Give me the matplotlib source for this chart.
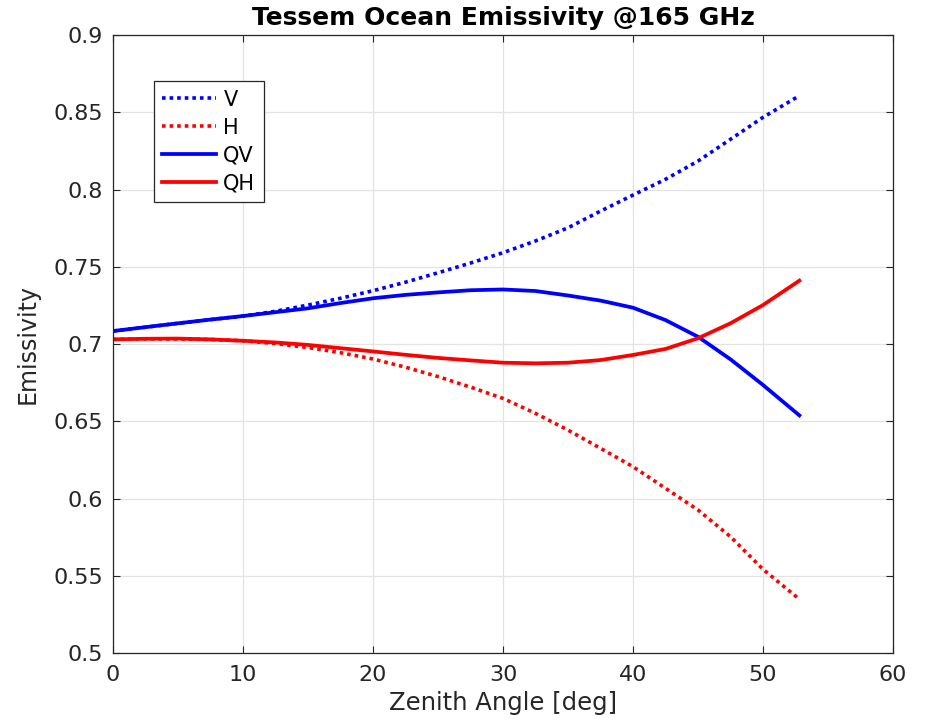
import numpy as np
import matplotlib.pyplot as plt

# zenith angles [deg] and emissivities at 165 GHz
theta = [0, 2.5, 5, 7.5, 10, 12.5, 15, 17.5, 20, 22.5, 25, 27.5, 30, 32.5,
         35, 37.5, 40, 42.5, 45, 47.5, 50, 52.8]
e_v = [0.7084, 0.7109, 0.7134, 0.7158, 0.7181, 0.7212, 0.7252, 0.7296, 0.7345,
       0.7400, 0.7461, 0.7524, 0.7591, 0.7667, 0.7752, 0.7860, 0.7964, 0.8066,
       0.8184, 0.8325, 0.8467, 0.8607]
e_h = [0.7030, 0.7033, 0.7033, 0.7029, 0.7021, 0.7003, 0.6977, 0.6944, 0.6903,
       0.6850, 0.6789, 0.6721, 0.6648, 0.6551, 0.6443, 0.6325, 0.6206, 0.6066,
       0.5926, 0.5753, 0.5542, 0.5348]
e_qv = [0.7084, 0.7109, 0.7134, 0.7158, 0.7181, 0.7206, 0.7231, 0.7265, 0.7296,
        0.7318, 0.7334, 0.7348, 0.7353, 0.7343, 0.7314, 0.7281, 0.7235, 0.7155,
        0.7047, 0.6901, 0.6735, 0.6538]
e_qh = [0.7030, 0.7034, 0.7035, 0.7030, 0.7021, 0.7010, 0.6994, 0.6973, 0.6952,
        0.6930, 0.6910, 0.6894, 0.6879, 0.6875, 0.6879, 0.6896, 0.6929, 0.6968,
        0.7037, 0.7134, 0.7252, 0.7410]

plt.rcParams['font.family'] = 'DejaVu Sans'
txt = '#262626'

fig = plt.figure(figsize=(9.33, 7.19), dpi=100)
ax = fig.add_axes([0.1211, 0.0918, 0.8360, 0.8595])

dot = (0, (1, 1.1))
ax.plot(theta, e_v, color='b', lw=2.6, linestyle=dot, label='V')
ax.plot(theta, e_h, color='r', lw=2.6, linestyle=dot, label='H')
ax.plot(theta, e_qv, color='b', lw=2.7, label='QV')
ax.plot(theta, e_qh, color='r', lw=2.7, label='QH')

ax.set_xlim(0, 60)
ax.set_ylim(0.5, 0.9)
ax.set_xticks(np.arange(0, 61, 10))
ax.set_yticks(np.arange(0.5, 0.91, 0.05))
ax.set_yticklabels(['0.5', '0.55', '0.6', '0.65', '0.7', '0.75', '0.8', '0.85', '0.9'])
ax.grid(True, color='#e3e3e3', lw=0.9)
ax.set_axisbelow(True)
ax.tick_params(direction='in', length=5, width=0.8, colors=txt, labelsize=16,
               top=True, right=True)
ax.tick_params(axis='x', pad=9)
ax.tick_params(axis='y', pad=7)
for s in ax.spines.values():
    s.set_color(txt)
    s.set_linewidth(0.9)

ax.set_xlabel('Zenith Angle [deg]', fontsize=17.5, color=txt, labelpad=4)
ax.set_ylabel('Emissivity', fontsize=17, color=txt, labelpad=10)
ax.set_title('Tessem Ocean Emissivity @165 GHz', fontsize=18, fontweight='bold',
             pad=7)

leg = ax.legend(loc='upper left', bbox_to_anchor=(0.052, 0.925), fontsize=15,
                handlelength=2.6, handletextpad=0.35, borderpad=0.4,
                labelspacing=0.38, fancybox=False, framealpha=1,
                borderaxespad=0)
leg.get_frame().set_edgecolor(txt)
leg.get_frame().set_linewidth(0.9)

fig.savefig('out.png', dpi=100)
